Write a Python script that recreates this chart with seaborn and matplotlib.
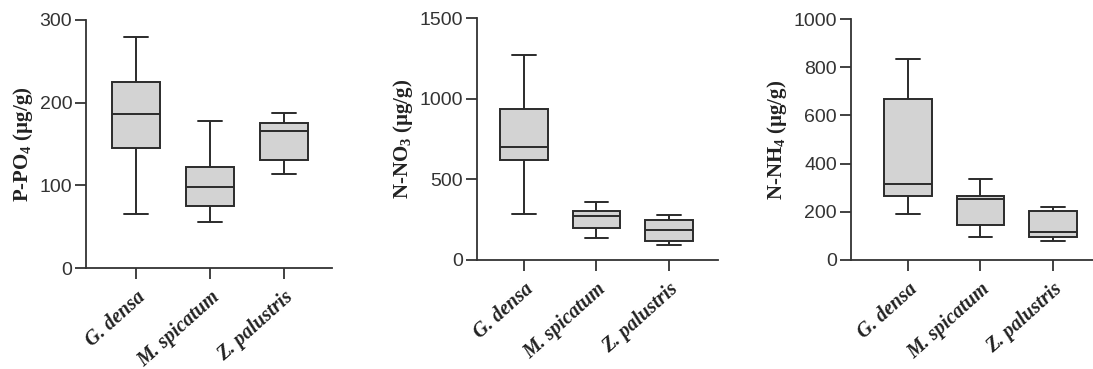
import pandas as pd
import matplotlib
matplotlib.use('Agg')
import matplotlib.pyplot as plt
import seaborn as sns

species = ['G. densa', 'M. spicatum', 'Z. palustris']

# five-number summaries (min, Q1, median, Q3, max)
p_po4 = {
    'G. densa': [65, 145, 186, 225, 279],
    'M. spicatum': [56, 75, 98, 122, 178],
    'Z. palustris': [114, 131, 166, 176, 187],
}
n_no3 = {
    'G. densa': [283, 617, 701, 939, 1270],
    'M. spicatum': [134, 197, 275, 306, 358],
    'Z. palustris': [95, 120, 184, 246, 279],
}
n_nh4 = {
    'G. densa': [191, 265, 316, 668, 834],
    'M. spicatum': [96, 144, 253, 266, 335],
    'Z. palustris': [80, 96, 115, 205, 219],
}

ylabels = ['P-PO$_4$ (µg/g)', 'N-NO$_3$ (µg/g)', 'N-NH$_4$ (µg/g)']
ymax = [300, 1500, 1000]
yticks = [[0, 100, 200, 300], [0, 500, 1000, 1500], [0, 200, 400, 600, 800, 1000]]

sns.set_style('ticks')
plt.rcParams['font.family'] = ['Liberation Sans', 'DejaVu Sans']
plt.rcParams['mathtext.fontset'] = 'custom'
plt.rcParams['mathtext.rm'] = 'Liberation Serif:bold'
plt.rcParams['mathtext.it'] = 'Liberation Serif:bold'
plt.rcParams['mathtext.bf'] = 'Liberation Serif:bold'

fig = plt.figure(figsize=(10.93, 3.69), dpi=100)
boxes = [
    [0.0787, 0.2737, 0.2251, 0.6721],
    [0.4364, 0.2954, 0.2205, 0.6558],
    [0.7786, 0.2954, 0.2214, 0.6531],
]
xlims = [(-0.676, 2.649), (-0.648, 2.676), (-0.786, 2.552)]

for i, data in enumerate([p_po4, n_no3, n_nh4]):
    ax = fig.add_axes(boxes[i])
    df = pd.DataFrame([(sp, v) for sp in species for v in data[sp]],
                      columns=['species', 'value'])
    sns.boxplot(data=df, x='species', y='value', order=species, ax=ax,
                whis=(0, 100), width=0.65, color='#d3d3d3',
                linecolor='#2b2b2b', linewidth=1.4, saturation=1,
                showfliers=False)
    ax.set_ylim(0, ymax[i])
    ax.set_yticks(yticks[i])
    ax.set_xlim(*xlims[i])
    ax.set_xlabel('')
    ax.set_ylabel(ylabels[i], family='Liberation Serif', fontweight='bold',
                  fontsize=15, color='#222222', labelpad=3)
    ax.set_xticks(range(3))
    ax.set_xticklabels(species, rotation=42, ha='right', rotation_mode='anchor',
                       family='Liberation Serif', fontweight='bold',
                       style='italic', fontsize=14.5, color='#222222')
    ax.tick_params(axis='y', labelsize=14, colors='#333333', length=8,
                   width=1.3, pad=2)
    ax.tick_params(axis='x', length=8, width=1.3, colors='#333333', pad=6)
    for lab in ax.get_xticklabels():
        lab.set_color('#222222')
    for s in ['top', 'right']:
        ax.spines[s].set_visible(False)
    for s in ['left', 'bottom']:
        ax.spines[s].set_linewidth(1.3)
        ax.spines[s].set_color('#333333')

fig.savefig('out.png', dpi=100, facecolor='white')
